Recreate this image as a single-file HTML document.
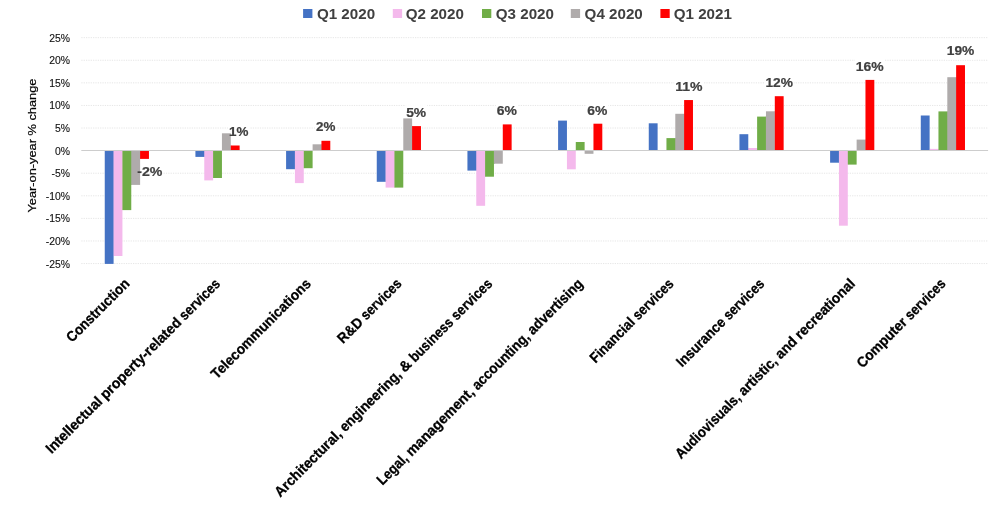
<!DOCTYPE html>
<html><head><meta charset="utf-8"><title>Chart</title>
<style>
html,body{margin:0;padding:0;background:#fff;}
body{width:1000px;height:510px;overflow:hidden;font-family:"Liberation Sans",sans-serif;}
svg{display:block;opacity:0.999;will-change:transform;}
text{font-family:"Liberation Sans",sans-serif;}
.tick{font-size:10.4px;fill:#111;stroke:#111;stroke-width:0.12px;}
.dl{font-size:13.4px;font-weight:bold;fill:#404040;stroke:#404040;stroke-width:0.22px;stroke-linejoin:round;}
.cat{font-size:14.5px;font-weight:bold;fill:#000;stroke:#000;stroke-width:0.3px;}
.leg{font-size:14.7px;font-weight:bold;fill:#404040;}
.ytitle{font-size:11.5px;fill:#000;stroke:#000;stroke-width:0.2px;}
</style></head><body>
<svg width="1000" height="510" viewBox="0 0 1000 510">
<rect x="0" y="0" width="1000" height="510" fill="#fff"/>
<g stroke="#E6E6E6" stroke-width="1" stroke-dasharray="1.25 1.1">
<line x1="81.3" x2="988.1" y1="263.57" y2="263.57"/>
<line x1="81.3" x2="988.1" y1="240.98" y2="240.98"/>
<line x1="81.3" x2="988.1" y1="218.39" y2="218.39"/>
<line x1="81.3" x2="988.1" y1="195.80" y2="195.80"/>
<line x1="81.3" x2="988.1" y1="173.21" y2="173.21"/>
<line x1="81.3" x2="988.1" y1="128.03" y2="128.03"/>
<line x1="81.3" x2="988.1" y1="105.44" y2="105.44"/>
<line x1="81.3" x2="988.1" y1="82.85" y2="82.85"/>
<line x1="81.3" x2="988.1" y1="60.26" y2="60.26"/>
<line x1="81.3" x2="988.1" y1="37.67" y2="37.67"/>
</g>
<rect x="228.2" y="123.7" width="21.4" height="16" fill="#fff"/>
<rect x="315.1" y="119.4" width="21.4" height="16" fill="#fff"/>
<rect x="405.3" y="105.1" width="22.0" height="16" fill="#fff"/>
<rect x="495.8" y="103.5" width="22.2" height="16" fill="#fff"/>
<rect x="586.4" y="102.7" width="22.1" height="16" fill="#fff"/>
<rect x="674.3" y="78.9" width="29.3" height="16" fill="#fff"/>
<rect x="764.6" y="74.8" width="29.5" height="16" fill="#fff"/>
<rect x="854.9" y="58.9" width="29.9" height="16" fill="#fff"/>
<rect x="945.9" y="43.5" width="29.6" height="16" fill="#fff"/>
<rect x="104.75" y="150.62" width="8.84" height="113.28" fill="#4472C4"/>
<rect x="113.39" y="150.62" width="0.9" height="105.38" fill="#4472C4"/>
<rect x="113.59" y="150.62" width="8.84" height="105.38" fill="#F4B9EC"/>
<rect x="122.23" y="150.62" width="0.9" height="59.48" fill="#F4B9EC"/>
<rect x="122.43" y="150.62" width="8.84" height="59.48" fill="#70AD47"/>
<rect x="131.07" y="150.62" width="0.9" height="34.28" fill="#70AD47"/>
<rect x="131.27" y="150.62" width="8.84" height="34.28" fill="#AFABAB"/>
<rect x="139.91" y="150.62" width="0.9" height="8.28" fill="#AFABAB"/>
<rect x="140.11" y="150.62" width="8.84" height="8.28" fill="#FF0000"/>
<rect x="195.42" y="150.62" width="8.84" height="6.28" fill="#4472C4"/>
<rect x="204.06" y="150.62" width="0.9" height="6.28" fill="#4472C4"/>
<rect x="204.26" y="150.62" width="8.84" height="29.78" fill="#F4B9EC"/>
<rect x="212.90" y="150.62" width="0.9" height="27.38" fill="#F4B9EC"/>
<rect x="213.10" y="150.62" width="8.84" height="27.38" fill="#70AD47"/>
<rect x="221.94" y="133.30" width="8.84" height="17.32" fill="#AFABAB"/>
<rect x="230.58" y="145.50" width="0.9" height="5.12" fill="#AFABAB"/>
<rect x="230.78" y="145.50" width="8.84" height="5.12" fill="#FF0000"/>
<rect x="286.09" y="150.62" width="8.84" height="18.58" fill="#4472C4"/>
<rect x="294.73" y="150.62" width="0.9" height="18.58" fill="#4472C4"/>
<rect x="294.93" y="150.62" width="8.84" height="32.48" fill="#F4B9EC"/>
<rect x="303.57" y="150.62" width="0.9" height="17.58" fill="#F4B9EC"/>
<rect x="303.77" y="150.62" width="8.84" height="17.58" fill="#70AD47"/>
<rect x="312.61" y="144.30" width="8.84" height="6.32" fill="#AFABAB"/>
<rect x="321.25" y="144.30" width="0.9" height="6.32" fill="#AFABAB"/>
<rect x="321.45" y="140.80" width="8.84" height="9.82" fill="#FF0000"/>
<rect x="376.76" y="150.62" width="8.84" height="31.18" fill="#4472C4"/>
<rect x="385.40" y="150.62" width="0.9" height="31.18" fill="#4472C4"/>
<rect x="385.60" y="150.62" width="8.84" height="36.98" fill="#F4B9EC"/>
<rect x="394.24" y="150.62" width="0.9" height="36.98" fill="#F4B9EC"/>
<rect x="394.44" y="150.62" width="8.84" height="36.98" fill="#70AD47"/>
<rect x="403.28" y="118.40" width="8.84" height="32.22" fill="#AFABAB"/>
<rect x="411.92" y="126.10" width="0.9" height="24.52" fill="#AFABAB"/>
<rect x="412.12" y="126.10" width="8.84" height="24.52" fill="#FF0000"/>
<rect x="467.43" y="150.62" width="8.84" height="19.98" fill="#4472C4"/>
<rect x="476.07" y="150.62" width="0.9" height="19.98" fill="#4472C4"/>
<rect x="476.27" y="150.62" width="8.84" height="55.18" fill="#F4B9EC"/>
<rect x="484.91" y="150.62" width="0.9" height="26.08" fill="#F4B9EC"/>
<rect x="485.11" y="150.62" width="8.84" height="26.08" fill="#70AD47"/>
<rect x="493.75" y="150.62" width="0.9" height="13.08" fill="#70AD47"/>
<rect x="493.95" y="150.62" width="8.84" height="13.08" fill="#AFABAB"/>
<rect x="502.79" y="124.40" width="8.84" height="26.22" fill="#FF0000"/>
<rect x="558.10" y="120.60" width="8.84" height="30.02" fill="#4472C4"/>
<rect x="566.94" y="150.62" width="8.84" height="18.68" fill="#F4B9EC"/>
<rect x="575.78" y="142.00" width="8.84" height="8.62" fill="#70AD47"/>
<rect x="584.62" y="150.62" width="8.84" height="3.18" fill="#AFABAB"/>
<rect x="593.46" y="123.70" width="8.84" height="26.92" fill="#FF0000"/>
<rect x="648.77" y="123.30" width="8.84" height="27.32" fill="#4472C4"/>
<rect x="666.45" y="138.10" width="8.84" height="12.52" fill="#70AD47"/>
<rect x="675.09" y="138.10" width="0.9" height="12.52" fill="#70AD47"/>
<rect x="675.29" y="113.80" width="8.84" height="36.82" fill="#AFABAB"/>
<rect x="683.93" y="113.80" width="0.9" height="36.82" fill="#AFABAB"/>
<rect x="684.13" y="100.05" width="8.84" height="50.57" fill="#FF0000"/>
<rect x="739.44" y="134.20" width="8.84" height="16.42" fill="#4472C4"/>
<rect x="748.08" y="148.00" width="0.9" height="2.62" fill="#4472C4"/>
<rect x="748.28" y="148.00" width="8.84" height="2.62" fill="#F4B9EC"/>
<rect x="756.92" y="148.00" width="0.9" height="2.62" fill="#F4B9EC"/>
<rect x="757.12" y="116.60" width="8.84" height="34.02" fill="#70AD47"/>
<rect x="765.76" y="116.60" width="0.9" height="34.02" fill="#70AD47"/>
<rect x="765.96" y="111.30" width="8.84" height="39.32" fill="#AFABAB"/>
<rect x="774.60" y="111.30" width="0.9" height="39.32" fill="#AFABAB"/>
<rect x="774.80" y="96.20" width="8.84" height="54.42" fill="#FF0000"/>
<rect x="830.11" y="150.62" width="8.84" height="12.08" fill="#4472C4"/>
<rect x="838.75" y="150.62" width="0.9" height="12.08" fill="#4472C4"/>
<rect x="838.95" y="150.62" width="8.84" height="75.08" fill="#F4B9EC"/>
<rect x="847.59" y="150.62" width="0.9" height="13.98" fill="#F4B9EC"/>
<rect x="847.79" y="150.62" width="8.84" height="13.98" fill="#70AD47"/>
<rect x="856.63" y="139.60" width="8.84" height="11.02" fill="#AFABAB"/>
<rect x="865.27" y="139.60" width="0.9" height="11.02" fill="#AFABAB"/>
<rect x="865.47" y="79.90" width="8.84" height="70.72" fill="#FF0000"/>
<rect x="920.78" y="115.50" width="8.84" height="35.12" fill="#4472C4"/>
<rect x="929.42" y="148.90" width="0.9" height="1.72" fill="#4472C4"/>
<rect x="929.62" y="148.90" width="8.84" height="1.72" fill="#F4B9EC"/>
<rect x="938.26" y="148.90" width="0.9" height="1.72" fill="#F4B9EC"/>
<rect x="938.46" y="111.40" width="8.84" height="39.22" fill="#70AD47"/>
<rect x="947.10" y="111.40" width="0.9" height="39.22" fill="#70AD47"/>
<rect x="947.30" y="77.20" width="8.84" height="73.42" fill="#AFABAB"/>
<rect x="955.94" y="77.20" width="0.9" height="73.42" fill="#AFABAB"/>
<rect x="956.14" y="65.20" width="8.84" height="85.42" fill="#FF0000"/>
<line x1="81.3" x2="988.1" y1="150.52" y2="150.52" stroke="#CDCDCD" stroke-width="1"/>
<text class="tick" x="70" y="267.57" text-anchor="end">-25%</text>
<text class="tick" x="70" y="244.98" text-anchor="end">-20%</text>
<text class="tick" x="70" y="222.39" text-anchor="end">-15%</text>
<text class="tick" x="70" y="199.80" text-anchor="end">-10%</text>
<text class="tick" x="70" y="177.21" text-anchor="end">-5%</text>
<text class="tick" x="70" y="154.62" text-anchor="end">0%</text>
<text class="tick" x="70" y="132.03" text-anchor="end">5%</text>
<text class="tick" x="70" y="109.44" text-anchor="end">10%</text>
<text class="tick" x="70" y="86.85" text-anchor="end">15%</text>
<text class="tick" x="70" y="64.26" text-anchor="end">20%</text>
<text class="tick" x="70" y="41.67" text-anchor="end">25%</text>
<text class="ytitle" transform="translate(36.4,212.6) rotate(-90)" textLength="134" lengthAdjust="spacingAndGlyphs">Year-on-year % change</text>
<rect x="303.1" y="9" width="9.3" height="9" fill="#4472C4"/>
<text class="leg" x="316.9" y="18.5" textLength="58.2" lengthAdjust="spacingAndGlyphs">Q1 2020</text>
<rect x="392.8" y="9" width="9.3" height="9" fill="#F4B9EC"/>
<text class="leg" x="405.7" y="18.5" textLength="58.2" lengthAdjust="spacingAndGlyphs">Q2 2020</text>
<rect x="482.0" y="9" width="9.3" height="9" fill="#70AD47"/>
<text class="leg" x="495.79999999999995" y="18.5" textLength="58.2" lengthAdjust="spacingAndGlyphs">Q3 2020</text>
<rect x="570.8" y="9" width="9.3" height="9" fill="#AFABAB"/>
<text class="leg" x="584.6" y="18.5" textLength="58.2" lengthAdjust="spacingAndGlyphs">Q4 2020</text>
<rect x="660.4" y="9" width="9.3" height="9" fill="#FF0000"/>
<text class="leg" x="673.6999999999999" y="18.5" textLength="58.2" lengthAdjust="spacingAndGlyphs">Q1 2021</text>
<text class="dl" x="137.25" y="175.70" textLength="25.20" lengthAdjust="spacingAndGlyphs">-2%</text>
<text class="dl" x="229.05" y="135.50" textLength="19.40" lengthAdjust="spacingAndGlyphs">1%</text>
<text class="dl" x="315.95" y="131.20" textLength="19.40" lengthAdjust="spacingAndGlyphs">2%</text>
<text class="dl" x="406.15" y="116.90" textLength="20.00" lengthAdjust="spacingAndGlyphs">5%</text>
<text class="dl" x="496.65" y="115.30" textLength="20.20" lengthAdjust="spacingAndGlyphs">6%</text>
<text class="dl" x="587.25" y="114.50" textLength="20.10" lengthAdjust="spacingAndGlyphs">6%</text>
<text class="dl" x="675.15" y="90.70" textLength="27.30" lengthAdjust="spacingAndGlyphs">11%</text>
<text class="dl" x="765.45" y="86.60" textLength="27.50" lengthAdjust="spacingAndGlyphs">12%</text>
<text class="dl" x="855.75" y="70.70" textLength="27.90" lengthAdjust="spacingAndGlyphs">16%</text>
<text class="dl" x="946.75" y="55.30" textLength="27.60" lengthAdjust="spacingAndGlyphs">19%</text>
<g transform="translate(130.50,284.60) rotate(-45)">
<text class="cat" x="-82.60" y="0" textLength="82.60" lengthAdjust="spacingAndGlyphs">Construction</text>
</g>
<g transform="translate(221.17,284.60) rotate(-45)">
<text class="cat" x="-240.10" y="0" textLength="73.26" lengthAdjust="spacingAndGlyphs">Intellectual</text>
<text class="cat" x="-163.31" y="0" textLength="108.31" lengthAdjust="spacingAndGlyphs">property-related</text>
<text class="cat" x="-51.47" y="0" textLength="51.47" lengthAdjust="spacingAndGlyphs">services</text>
</g>
<g transform="translate(311.84,284.60) rotate(-45)">
<text class="cat" x="-134.50" y="0" textLength="134.50" lengthAdjust="spacingAndGlyphs">Telecommunications</text>
</g>
<g transform="translate(402.51,284.60) rotate(-45)">
<text class="cat" x="-84.20" y="0" textLength="29.49" lengthAdjust="spacingAndGlyphs">R&amp;D</text>
<text class="cat" x="-51.20" y="0" textLength="51.20" lengthAdjust="spacingAndGlyphs">services</text>
</g>
<g transform="translate(493.18,284.60) rotate(-45)">
<text class="cat" x="-301.30" y="0" textLength="88.46" lengthAdjust="spacingAndGlyphs">Architectural,</text>
<text class="cat" x="-209.31" y="0" textLength="80.75" lengthAdjust="spacingAndGlyphs">engineering,</text>
<text class="cat" x="-125.03" y="0" textLength="11.00" lengthAdjust="spacingAndGlyphs">&amp;</text>
<text class="cat" x="-110.50" y="0" textLength="55.52" lengthAdjust="spacingAndGlyphs">business</text>
<text class="cat" x="-51.45" y="0" textLength="51.45" lengthAdjust="spacingAndGlyphs">services</text>
</g>
<g transform="translate(583.85,284.60) rotate(-45)">
<text class="cat" x="-284.60" y="0" textLength="37.37" lengthAdjust="spacingAndGlyphs">Legal,</text>
<text class="cat" x="-243.71" y="0" textLength="89.96" lengthAdjust="spacingAndGlyphs">management,</text>
<text class="cat" x="-150.22" y="0" textLength="74.85" lengthAdjust="spacingAndGlyphs">accounting,</text>
<text class="cat" x="-71.86" y="0" textLength="71.86" lengthAdjust="spacingAndGlyphs">advertising</text>
</g>
<g transform="translate(674.52,284.60) rotate(-45)">
<text class="cat" x="-111.80" y="0" textLength="57.10" lengthAdjust="spacingAndGlyphs">Financial</text>
<text class="cat" x="-51.19" y="0" textLength="51.19" lengthAdjust="spacingAndGlyphs">services</text>
</g>
<g transform="translate(765.19,284.60) rotate(-45)">
<text class="cat" x="-117.60" y="0" textLength="62.88" lengthAdjust="spacingAndGlyphs">Insurance</text>
<text class="cat" x="-51.21" y="0" textLength="51.21" lengthAdjust="spacingAndGlyphs">services</text>
</g>
<g transform="translate(855.86,284.60) rotate(-45)">
<text class="cat" x="-247.40" y="0" textLength="85.78" lengthAdjust="spacingAndGlyphs">Audiovisuals,</text>
<text class="cat" x="-158.11" y="0" textLength="48.37" lengthAdjust="spacingAndGlyphs">artistic,</text>
<text class="cat" x="-106.22" y="0" textLength="24.39" lengthAdjust="spacingAndGlyphs">and</text>
<text class="cat" x="-78.31" y="0" textLength="78.31" lengthAdjust="spacingAndGlyphs">recreational</text>
</g>
<g transform="translate(946.53,284.60) rotate(-45)">
<text class="cat" x="-119.00" y="0" textLength="64.43" lengthAdjust="spacingAndGlyphs">Computer</text>
<text class="cat" x="-51.07" y="0" textLength="51.07" lengthAdjust="spacingAndGlyphs">services</text>
</g>
</svg></body></html>
